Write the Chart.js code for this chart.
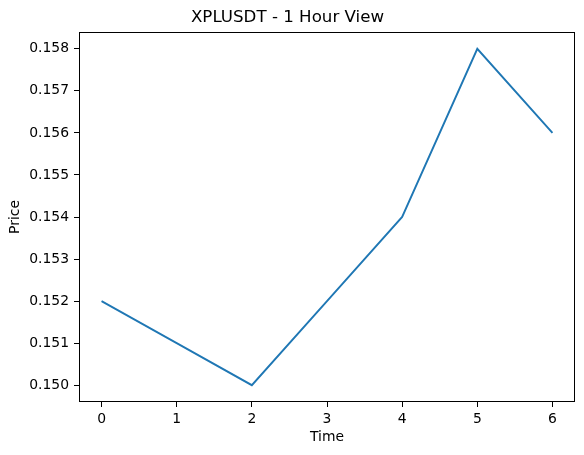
<!DOCTYPE html>
<html><head><meta charset="utf-8">
<script src="https://cdn.jsdelivr.net/npm/chart.js@4/dist/chart.umd.min.js"></script>
<style>html,body{margin:0;padding:0;background:#fff}</style>
</head><body>
<canvas id="c" width="584" height="455"></canvas>
<script>
const timeValues = [0, 1, 2, 3, 4, 5, 6];
const prices = [0.152, 0.151, 0.150, 0.152, 0.154, 0.158, 0.156];
const xTickValues = [0, 1, 2, 3, 4, 5, 6];
const yTickValues = [0.150, 0.151, 0.152, 0.153, 0.154, 0.155, 0.156, 0.157, 0.158];
const chartTitle = 'XPLUSDT - 1 Hour View';
const xTitle = 'Time';
const yTitle = 'Price';

const FONT = "'DejaVu Sans', sans-serif";

const boxPlugin = {
  id: 'box',
  afterDatasetsDraw(chart) {
    const a = chart.chartArea, ctx = chart.ctx;
    ctx.save();
    ctx.strokeStyle = '#000';
    ctx.lineWidth = 1;
    ctx.strokeRect(Math.round(a.left) + 0.5, Math.round(a.top) + 0.5,
      Math.round(a.right - a.left) - 1, Math.round(a.bottom - a.top) - 1);
    ctx.restore();
  }
};

new Chart(document.getElementById('c'), {
  type: 'line',
  data: {
    datasets: [{
      data: timeValues.map((t, i) => ({ x: t, y: prices[i] })),
      borderColor: '#1f77b4',
      borderWidth: 1.9,
      pointRadius: 0,
      tension: 0,
      fill: false
    }]
  },
  options: {
    responsive: false,
    animation: false,
    devicePixelRatio: 1,
    layout: { padding: { left: 0, right: 9, top: 0, bottom: 0 } },
    plugins: {
      legend: { display: false },
      tooltip: { enabled: false },
      title: {
        display: true,
        text: chartTitle,
        color: '#000',
        font: { family: FONT, size: 16.67, weight: 'normal' },
        padding: { top: 8, bottom: 4 }
      }
    },
    scales: {
      x: {
        type: 'linear',
        min: -0.3, max: 6.3,
        afterBuildTicks: s => { s.ticks = xTickValues.map(v => ({ value: v })); },
        afterFit: s => { s.height = 53; },
        border: { display: false },
        grid: { drawOnChartArea: false, drawTicks: true, tickLength: 5, tickColor: '#000', lineWidth: 1 },
        ticks: { color: '#000', font: { family: FONT, size: 13.9 }, padding: 4, maxRotation: 0, autoSkip: false,
          callback: v => String(v) },
        title: { display: true, text: xTitle, color: '#000', font: { family: FONT, size: 13.9 }, padding: { top: 0, bottom: 9 } }
      },
      y: {
        type: 'linear',
        min: 0.1496, max: 0.1584,
        afterBuildTicks: s => { s.ticks = yTickValues.map(v => ({ value: v })); },
        afterFit: s => { s.width = 79; },
        border: { display: false },
        grid: { drawOnChartArea: false, drawTicks: true, tickLength: 5, tickColor: '#000', lineWidth: 1 },
        ticks: { color: '#000', font: { family: FONT, size: 13.9 }, padding: 5, autoSkip: false,
          callback: v => Number(v).toFixed(3) },
        title: { display: true, text: yTitle, color: '#000', font: { family: FONT, size: 13.9 }, padding: { top: 7, bottom: 0 } }
      }
    }
  },
  plugins: [boxPlugin]
});
</script>
</body></html>
